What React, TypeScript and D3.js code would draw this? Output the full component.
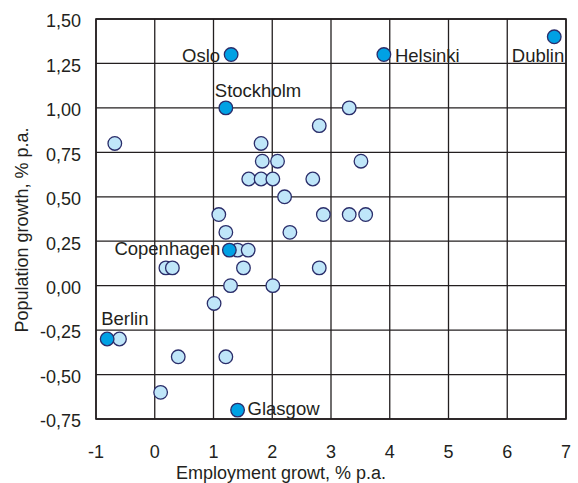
import React, { useEffect, useRef } from 'react';
import * as d3 from 'd3';

// light-blue cities (employment growth, population growth)
const otherEmployment = [-0.68, 1.81, 1.83, 2.09, 1.6, 1.81, 2.01, 2.21, 1.09, 1.21, 2.3, 3.31, 2.8, 3.51, 2.69, 2.87, 3.31, 3.59, 1.41, 1.59, 0.19, 0.3, 1.51, 1.29, 2.01, 1.01, -0.6, 0.4, 1.21, 0.1, 2.8];
const otherPopulation = [0.8, 0.8, 0.7, 0.7, 0.6, 0.6, 0.6, 0.5, 0.4, 0.3, 0.3, 1.0, 0.9, 0.7, 0.6, 0.4, 0.4, 0.4, 0.2, 0.2, 0.1, 0.1, 0.1, 0.0, 0.0, -0.1, -0.3, -0.4, -0.4, -0.6, 0.1];

// highlighted cities
const cityNames = ['Oslo', 'Stockholm', 'Helsinki', 'Dublin', 'Copenhagen', 'Berlin', 'Glasgow'];
const cityEmployment = [1.3, 1.21, 3.9, 6.8, 1.27, -0.81, 1.41];
const cityPopulation = [1.3, 1.0, 1.3, 1.4, 0.2, -0.3, -0.7];

const xTicks = [-1, 0, 1, 2, 3, 4, 5, 6, 7];
const yTicks = [-0.75, -0.5, -0.25, 0, 0.25, 0.5, 0.75, 1.0, 1.25, 1.5];

const W = 578;
const H = 483;
const margin = { top: 19, right: 12, bottom: 64, left: 96 };

const App: React.FC = () => {
  const svgRef = useRef<SVGSVGElement>(null);

  useEffect(() => {
    if (!svgRef.current) return;
    d3.select(svgRef.current).selectAll('*').remove();

    const svg = d3.select(svgRef.current);
    const font = "'Liberation Sans', Arial, Helvetica, sans-serif";
    const ink = '#231f20';

    const x = d3.scaleLinear().domain([-1, 7]).range([margin.left, W - margin.right]);
    const y = d3.scaleLinear().domain([-0.75, 1.5]).range([H - margin.bottom, margin.top]);

    // grid
    const grid = svg.append('g');
    grid.selectAll('.vx')
      .data(xTicks)
      .enter()
      .append('line')
      .attr('x1', d => x(d))
      .attr('x2', d => x(d))
      .attr('y1', y(1.5))
      .attr('y2', y(-0.75))
      .attr('stroke', ink)
      .attr('stroke-width', 1.3);
    grid.selectAll('.hy')
      .data(yTicks)
      .enter()
      .append('line')
      .attr('x1', x(-1))
      .attr('x2', x(7))
      .attr('y1', d => y(d))
      .attr('y2', d => y(d))
      .attr('stroke', ink)
      .attr('stroke-width', 1.3);

    svg.append('rect')
      .attr('x', x(-1))
      .attr('y', y(1.5))
      .attr('width', x(7) - x(-1))
      .attr('height', y(-0.75) - y(1.5))
      .attr('fill', 'none')
      .attr('stroke', ink)
      .attr('stroke-width', 1.6);

    // tick labels
    const fmt = (v: number) => v.toFixed(2).replace('.', ',');
    svg.selectAll('.ytl')
      .data(yTicks)
      .enter()
      .append('text')
      .attr('x', 81)
      .attr('y', d => y(d) + 2)
      .attr('dy', '0.35em')
      .attr('text-anchor', 'end')
      .attr('font-family', font)
      .attr('font-size', 18)
      .attr('fill', ink)
      .text(d => fmt(d));

    svg.selectAll('.xtl')
      .data(xTicks)
      .enter()
      .append('text')
      .attr('x', d => x(d))
      .attr('y', 458)
      .attr('text-anchor', 'middle')
      .attr('font-family', font)
      .attr('font-size', 18)
      .attr('fill', ink)
      .text(d => String(d));

    // axis titles
    svg.append('text')
      .attr('x', 281)
      .attr('y', 479)
      .attr('text-anchor', 'middle')
      .attr('font-family', font)
      .attr('font-size', 18)
      .attr('fill', ink)
      .text('Employment growt, % p.a.');

    svg.append('text')
      .attr('transform', 'translate(28,230) rotate(-90)')
      .attr('text-anchor', 'middle')
      .attr('font-family', font)
      .attr('font-size', 18)
      .attr('fill', ink)
      .text('Population growth, % p.a.');

    // light points
    const others = otherEmployment.map((v, i) => ({ ex: v, py: otherPopulation[i] }));
    svg.selectAll('.pt')
      .data(others)
      .enter()
      .append('circle')
      .attr('cx', d => x(d.ex))
      .attr('cy', d => y(d.py))
      .attr('r', 6.8)
      .attr('fill', '#bfe6f9')
      .attr('stroke', '#2a2d6a')
      .attr('stroke-width', 1.3);

    // highlighted points
    const cities = cityNames.map((n, i) => ({ name: n, ex: cityEmployment[i], py: cityPopulation[i] }));
    svg.selectAll('.city')
      .data(cities)
      .enter()
      .append('circle')
      .attr('cx', d => x(d.ex))
      .attr('cy', d => y(d.py))
      .attr('r', 6.8)
      .attr('fill', '#00a1e4')
      .attr('stroke', '#2a2d6a')
      .attr('stroke-width', 1.3);

    const labelPos: Record<string, { dx: number; dy: number; anchor: string }> = {
      Oslo: { dx: -11, dy: 7, anchor: 'end' },
      Stockholm: { dx: -11, dy: -11, anchor: 'start' },
      Helsinki: { dx: 11, dy: 7, anchor: 'start' },
      Dublin: { dx: 10, dy: 25, anchor: 'end' },
      Copenhagen: { dx: -9, dy: 5, anchor: 'end' },
      Berlin: { dx: -6, dy: -14, anchor: 'start' },
      Glasgow: { dx: 10, dy: 5, anchor: 'start' },
    };

    svg.selectAll('.lbl')
      .data(cities)
      .enter()
      .append('text')
      .attr('x', d => x(d.ex) + labelPos[d.name].dx)
      .attr('y', d => y(d.py) + labelPos[d.name].dy)
      .attr('text-anchor', d => labelPos[d.name].anchor)
      .attr('font-family', font)
      .attr('font-size', 18.5)
      .attr('fill', ink)
      .text(d => d.name);
  }, []);

  return (
    <svg
      ref={svgRef}
      width={W}
      height={H}
      style={{ position: 'absolute', left: 0, top: 0, background: '#fff' }}
    />
  );
};

export default App;
